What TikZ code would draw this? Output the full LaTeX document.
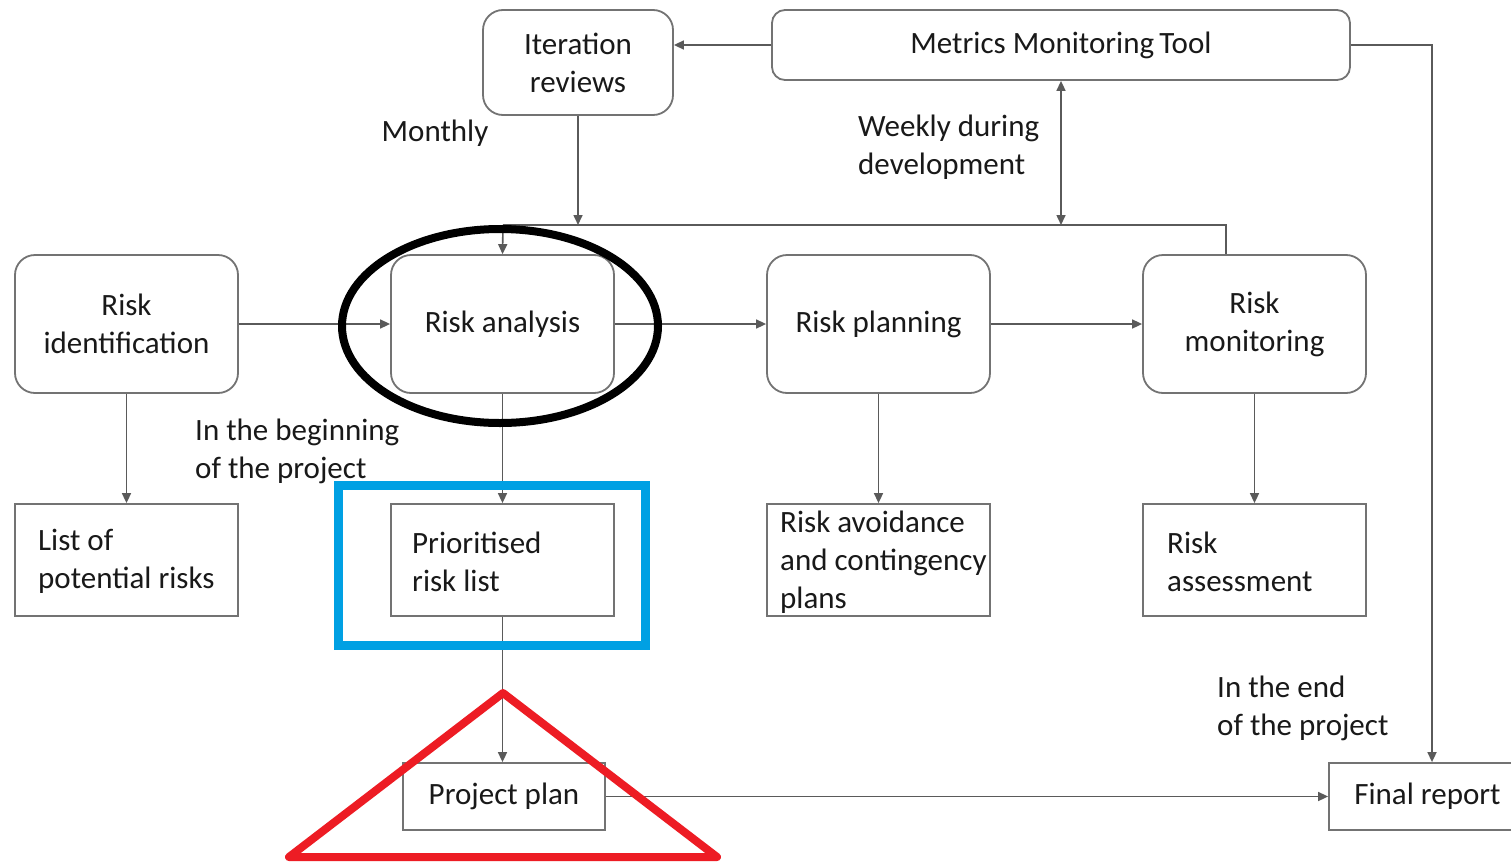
\documentclass[tikz,border=0pt]{standalone}
\usepackage{fontspec}
\setmainfont{Carlito}
\usetikzlibrary{arrows.meta}
\definecolor{ln}{RGB}{90,90,90}
\definecolor{bx}{RGB}{115,115,115}
\definecolor{txt}{RGB}{25,25,25}
\definecolor{blu}{RGB}{0,160,227}
\definecolor{rd}{RGB}{237,28,36}
\begin{document}
\begin{tikzpicture}[x=1pt,y=-1pt,
  every node/.style={font=\fontsize{31}{38}\selectfont, text=txt},
  rbox/.style={draw=bx, line width=1.8pt, rounded corners=20pt, minimum width=223pt, minimum height=138pt, align=center, inner sep=0pt},
  sbox/.style={draw=bx, line width=1.8pt, minimum width=223pt, minimum height=112pt, inner sep=0pt},
  lbl/.style={align=left, inner sep=0pt, anchor=west},
  arr/.style={draw=ln, line width=1.6pt, -{Triangle[length=10pt,width=9pt]}},
  arrb/.style={draw=ln, line width=1.6pt, {Triangle[length=10pt,width=9pt]}-{Triangle[length=10pt,width=9pt]}},
  ln/.style={draw=ln, line width=1.6pt}
]
\clip (0,0) rectangle (1511,862);
\fill[white] (0,0) rectangle (1511,862);

% top boxes
\node[rbox, minimum width=190pt, minimum height=105pt] (iter) at (578,62.5) {Iteration\\reviews};
\node[rbox, rounded corners=13pt, minimum width=578pt, minimum height=70pt] (mmt) at (1061,45) {Metrics Monitoring\,Tool};

% main row
\node[rbox] (ri) at (126.5,324) {Risk\\identification};
\node[rbox] (ra) at (502.5,324) {Risk analysis};
\node[rbox] (rp) at (878.5,324) {Risk planning};
\node[rbox] (rm) at (1254.5,324) {Risk\\monitoring};

% output row
\node[sbox] (lp) at (126.5,560) {};
\node[lbl] (lpt) at (38,561.5) {List of\\potential risks};
\node[sbox] (pr) at (502.5,560) {};
\node[lbl] (prt) at (412,561.5) {Prioritised\\risk list};
\node[sbox] (rav) at (878.5,560) {};
\node[lbl] (ravt) at (780,562.5) {Risk avoidance\\and contingency\\plans};
\node[sbox] (ras) at (1254.5,560) {};
\node[lbl] (rast) at (1167,561.5) {Risk\\assessment};

% bottom
\node[sbox, minimum width=202pt, minimum height=67pt] (pp) at (504,796.5) {Project plan};
\node[sbox, minimum width=206pt, minimum height=67pt] (fr) at (1432,796.5) {\hspace*{-9pt}Final report};

% free labels
\node[inner sep=0pt] (monthly) at (435,133) {Monthly};
\node[lbl] (weekly) at (858,147) {Weekly during\\development};
\node[lbl] (begin) at (195,451) {In the beginning\\of the project};
\node[lbl] (endp) at (1217,708) {In the end\\of the project};

% junction coordinates
\coordinate (jl) at (503,225);
\coordinate (jr) at (1226,225);

% connectors
\draw[arr] (mmt.west) -- (mmt.west -| iter.east);
\draw[arr] (iter.south) -- (iter.south |- jl);
\draw[ln] (jl) -- (jr) -- (jr |- rm.north);
\draw[arr] (jl) -- (ra.north);
\draw[arrb] (mmt.south) -- (mmt.south |- jl);
\draw[arr] (mmt.east) -| (fr.north);

\draw[arr] (ri.east) -- (ra.west);
\draw[arr] (ra.east) -- (rp.west);
\draw[arr] (rp.east) -- (rm.west);

\draw[arr] (ri.south) -- (lp.north);
\draw[arr] (ra.south) -- (pr.north);
\draw[arr] (rp.south) -- (rav.north);
\draw[arr] (rm.south) -- (ras.north);

\draw[arr] (pr.south) -- (pp.north -| pr.south);
\draw[arr] (pp.east) -- (fr.west);

% highlight overlays
\draw[black, line width=8pt] (500,326) ellipse [x radius=158, y radius=97];
\draw[blu, line width=9pt] (338.5,485) rectangle (645,645);
\draw[rd, line width=8pt, line join=round] (503,693) -- (717,857) -- (289,857) -- cycle;
\end{tikzpicture}
\end{document}
